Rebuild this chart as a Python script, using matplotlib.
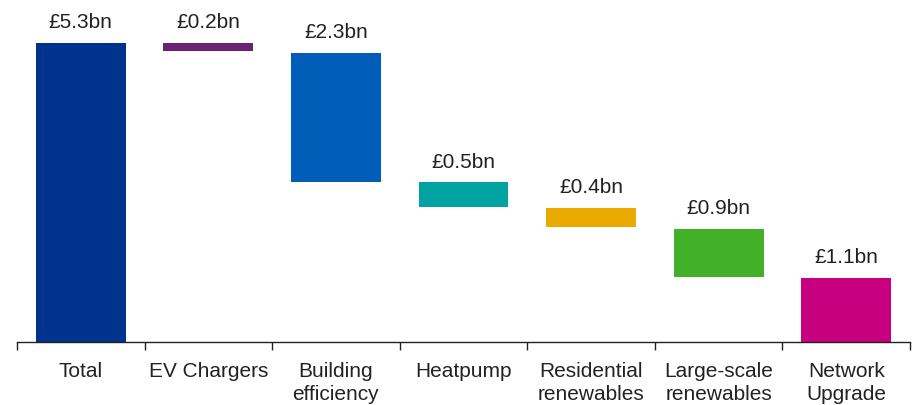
import matplotlib
matplotlib.use('Agg')
import matplotlib.pyplot as plt

plt.rcParams['font.family'] = ['Liberation Sans', 'DejaVu Sans']

# data
categories = ['Total', 'EV Chargers', 'Building\nefficiency', 'Heatpump',
              'Residential\nrenewables', 'Large-scale\nrenewables', 'Network\nUpgrade']
value_labels = ['£5.3bn', '£0.2bn', '£2.3bn', '£0.5bn', '£0.4bn', '£0.9bn', '£1.1bn']
# bar extents (bn)
bottoms = [0.0, 5.15, 2.84, 2.40, 2.03, 1.15, 0.0]
heights = [5.30, 0.15, 2.29, 0.43, 0.34, 0.86, 1.13]
colors = ['#00338D', '#6D2077', '#005EB8', '#00A3A1', '#EAAA00', '#43B02A', '#C6007E']

fig = plt.figure(figsize=(9.15, 4.06), dpi=100)
ax = fig.add_axes([17 / 915, 63 / 406, 893 / 915, 343 / 406])

x = list(range(len(categories)))
ax.bar(x, heights, bottom=bottoms, width=0.705, color=colors, linewidth=0)

for xi, b, h, lab in zip(x, bottoms, heights, value_labels):
    ax.annotate(lab, xy=(xi, b + h), xytext=(0, 8.5), textcoords='offset points',
                ha='center', va='bottom', fontsize=15, color='#222222')

ax.set_xlim(-0.5, len(categories) - 0.5)
ax.set_ylim(0, 6.08)

for s in ['top', 'right', 'left']:
    ax.spines[s].set_visible(False)
ax.spines['bottom'].set_color('#222222')
ax.spines['bottom'].set_linewidth(1.0)
ax.set_yticks([])

# boundaries as ticks, labels at centres
ax.set_xticks([i - 0.5 for i in range(len(categories) + 1)])
ax.set_xticklabels([])
ax.tick_params(axis='x', which='major', length=6, width=1, color='#222222', direction='out')
ax.set_xticks(x, minor=True)
ax.set_xticklabels(categories, minor=True, fontsize=15, color='#222222', linespacing=1.28)
ax.tick_params(axis='x', which='minor', length=0, pad=13.5)

fig.savefig('out.png', dpi=100)
